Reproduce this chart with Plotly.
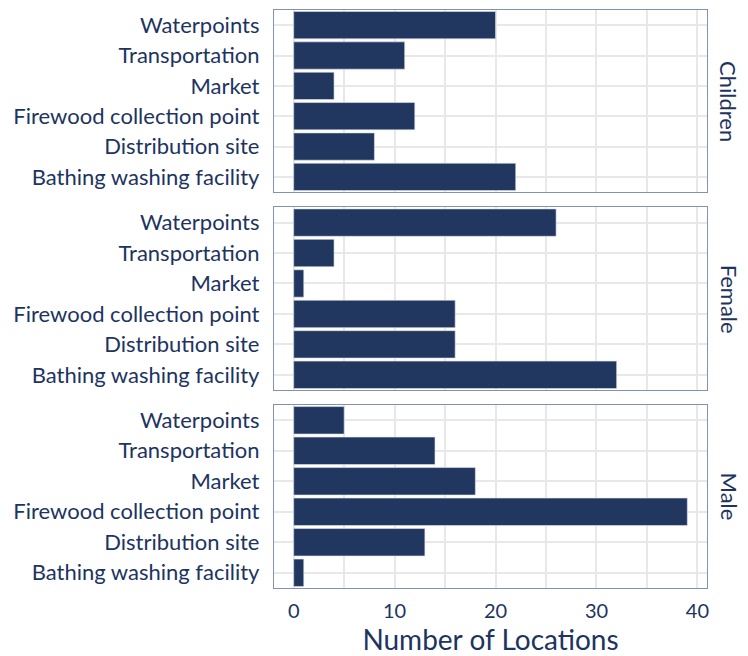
import plotly.graph_objects as go

# Location categories (bottom to top on the y axis)
categories = [
    "Bathing washing facility",
    "Distribution site",
    "Firewood collection point",
    "Market",
    "Transportation",
    "Waterpoints",
]
groups = ["Children", "Female", "Male"]

children = [22, 8, 12, 4, 11, 20]
female = [32, 16, 16, 1, 4, 26]
male = [1, 13, 39, 18, 14, 5]

x_ticks = [0, 10, 20, 30, 40]

BAR = "#22375f"
TEXT = "#1d3461"
BORDER = "#8391b3"
GRID = "#e8e8e8"
FONT = "Lato"

series = [children, female, male]
domains = [[0.685, 1.0], [0.3425, 0.6585], [0.0, 0.3165]]

fig = go.Figure()
layout = dict(
    width=748,
    height=656,
    margin=dict(l=274, r=41, t=10, b=68),
    paper_bgcolor="white",
    plot_bgcolor="white",
    showlegend=False,
    font=dict(family=FONT, color=TEXT, size=19),
    bargap=0.1,
)

annotations = []
for i, (name, vals, dom) in enumerate(zip(groups, series, domains)):
    xa = "x" if i == 0 else f"x{i+1}"
    ya = "y" if i == 0 else f"y{i+1}"
    fig.add_trace(go.Bar(
        x=vals, y=categories, orientation="h",
        marker=dict(color=BAR, line=dict(width=0.6, color="#dfe3ec")),
        xaxis=xa, yaxis=ya, hoverinfo="x+y",
    ))
    xkey = "xaxis" if i == 0 else f"xaxis{i+1}"
    ykey = "yaxis" if i == 0 else f"yaxis{i+1}"
    layout[xkey] = dict(
        domain=[0, 1], anchor=ya, range=[-1.95, 40.95],
        tickvals=x_ticks, showticklabels=(i == 2),
        showgrid=True, gridcolor=GRID, gridwidth=1.8,
        minor=dict(dtick=5, tick0=0, showgrid=True, gridcolor=GRID, gridwidth=1.8),
        zeroline=False, showline=True, linecolor=BORDER, linewidth=1.3, mirror=True,
        ticks="", ticklabelstandoff=5, tickfont=dict(size=20, color=TEXT),
        title=dict(text="Number of Locations", font=dict(size=28, color=TEXT), standoff=19) if i == 2 else None,
        automargin=False,
        fixedrange=True,
    )
    if i != 2:
        layout[xkey]["matches"] = "x3"
    layout[ykey] = dict(
        domain=dom, anchor=xa, type="category",
        categoryorder="array", categoryarray=categories,
        showgrid=True, gridcolor=GRID, gridwidth=1.8,
        zeroline=False, showline=True, linecolor=BORDER, linewidth=1.3, mirror=True,
        ticks="", ticklabelstandoff=9, tickfont=dict(size=22, color=TEXT),
        automargin=False,
        fixedrange=True,
    )
    annotations.append(dict(
        text=name, textangle=90, xref="paper", yref="paper",
        x=1.0, xshift=22, xanchor="center",
        y=(dom[0] + dom[1]) / 2, yanchor="middle",
        showarrow=False, font=dict(size=22, color=TEXT),
    ))

layout["annotations"] = annotations
fig.update_layout(**layout)
fig.write_html("out.html")
